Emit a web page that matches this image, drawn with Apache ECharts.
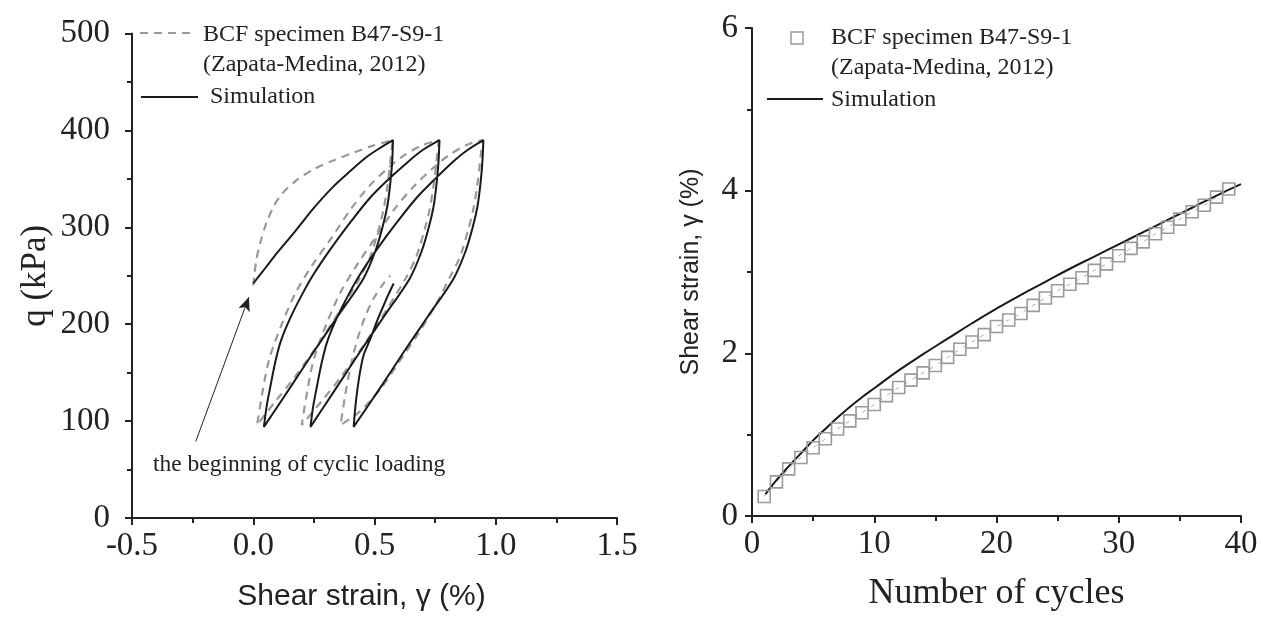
<!DOCTYPE html>
<html>
<head>
<meta charset="utf-8">
<script src="https://cdn.jsdelivr.net/npm/echarts@6/dist/echarts.min.js"></script>
<style>
  html, body { margin: 0; padding: 0; background: #fff; }
  #main { width: 1261px; height: 617px; }
</style>
</head>
<body>
<div id="main"></div>
<script>
// left panel: q vs shear strain loops, [strain %, q kPa]
var simLoop = [
  [0.00,242],[0.05,258],[0.10,274],[0.17,295],[0.25,320],[0.33,342],[0.40,358],[0.47,373],[0.53,383],[0.576,390],
  [0.573,368],[0.565,345],[0.553,322],[0.533,300],[0.503,275],[0.454,247],[0.348,208],[0.248,171],[0.148,133],[0.044,94],
  [0.055,115],[0.07,135],[0.09,160],[0.113,182],[0.15,205],[0.20,230],[0.25,252],[0.32,278],[0.40,305],[0.48,330],[0.56,350],[0.64,368],[0.70,380],[0.768,390],
  [0.764,368],[0.756,345],[0.744,322],[0.724,300],[0.694,275],[0.645,247],[0.539,208],[0.439,171],[0.339,133],[0.236,94],
  [0.247,115],[0.262,135],[0.282,160],[0.305,182],[0.342,205],[0.392,230],[0.442,252],[0.512,278],[0.592,305],[0.672,330],[0.750,350],[0.825,368],[0.885,380],[0.949,390],
  [0.945,368],[0.937,345],[0.925,322],[0.905,300],[0.875,275],[0.826,247],[0.72,208],[0.62,171],[0.52,133],[0.414,94],
  [0.420,112],[0.428,130],[0.44,150],[0.455,168],[0.483,185],[0.51,203],[0.537,219],[0.558,231],[0.579,242]
];
var testLoop = [
  [0.0,240],[0.012,265],[0.03,285],[0.055,305],[0.085,322],[0.12,335],[0.17,347],[0.25,360],[0.33,369],[0.414,377],[0.49,384],[0.575,390],
  [0.565,367],[0.552,340],[0.537,318],[0.517,298],[0.483,270],[0.44,248],[0.36,215],[0.27,180],[0.17,145],[0.09,120],[0.016,96],
  [0.038,130],[0.066,164],[0.116,199],[0.176,233],[0.246,262],[0.32,288],[0.40,318],[0.48,343],[0.56,362],[0.62,374],[0.70,385],[0.765,390],
  [0.755,367],[0.742,340],[0.727,318],[0.707,298],[0.673,270],[0.63,248],[0.55,215],[0.46,180],[0.36,145],[0.28,120],[0.2,96],
  [0.222,130],[0.25,164],[0.30,199],[0.36,233],[0.43,262],[0.50,288],[0.58,318],[0.665,343],[0.745,362],[0.805,374],[0.88,385],[0.945,390],
  [0.935,367],[0.922,340],[0.907,318],[0.887,298],[0.853,270],[0.81,248],[0.757,222],[0.68,190],[0.62,168],[0.53,135],[0.44,110],[0.36,96],
  [0.378,125],[0.40,155],[0.43,185],[0.465,210],[0.50,228],[0.54,243],[0.565,250]
];
var arrowFrom = [-0.237, 79];
var arrowTo = [-0.018, 228];

// right panel: shear strain vs number of cycles
var testCycles = [1,2,3,4,5,6,7,8,9,10,11,12,13,14,15,16,17,18,19,20,21,22,23,24,25,26,27,28,29,30,31,32,33,34,35,36,37,38,39];
var testStrain = [0.24,0.42,0.58,0.72,0.84,0.95,1.07,1.17,1.27,1.37,1.48,1.58,1.67,1.76,1.85,1.95,2.05,2.14,2.23,2.33,
  2.41,2.49,2.59,2.68,2.77,2.85,2.93,3.02,3.10,3.20,3.29,3.37,3.47,3.55,3.65,3.74,3.82,3.92,4.02];
var simCycles = [1.1,2,3,4,5,6,7,8,9,10,12,14,16,18,20,22,24,26,28,30,32,34,36,38,40];
var simStrain = [0.27,0.44,0.61,0.77,0.93,1.07,1.21,1.34,1.46,1.57,1.79,1.99,2.18,2.37,2.55,2.72,2.88,3.04,3.19,3.34,3.49,3.64,3.79,3.94,4.08];

var legendText1 = 'BCF specimen B47-S9-1';
var legendText2 = '(Zapata-Medina, 2012)';
var legendSim = 'Simulation';
var noteText = 'the beginning of cyclic loading';

var serif = 'Liberation Serif';
var sans = 'Liberation Sans';
var ink = '#222';

function pairs(xs, ys) {
  return xs.map(function (x, i) { return [x, ys[i]]; });
}

var chart = echarts.init(document.getElementById('main'));

var axisBase = {
  axisLine: { show: true, onZero: false, lineStyle: { color: ink, width: 2 } },
  axisTick: { show: true, inside: false, length: 7, lineStyle: { color: ink, width: 2 } },
  minorTick: { show: true, splitNumber: 2, length: 5, lineStyle: { color: ink, width: 2 } },
  splitLine: { show: false },
  axisLabel: { fontFamily: serif, fontSize: 33, color: ink }
};

function axis(extra) {
  var a = JSON.parse(JSON.stringify(axisBase));
  for (var k in extra) {
    if (typeof extra[k] === 'object' && a[k] && typeof a[k] === 'object' && !Array.isArray(extra[k])) {
      for (var j in extra[k]) a[k][j] = extra[k][j];
    } else {
      a[k] = extra[k];
    }
  }
  return a;
}

var option = {
  backgroundColor: '#fff',
  animation: false,
  grid: [
    { left: 132, top: 33.5, width: 485, height: 486.5 },
    { left: 752, top: 28, width: 489, height: 491 }
  ],
  xAxis: [
    axis({
      type: 'value', gridIndex: 0, min: -0.5, max: 1.5, interval: 0.5,
      axisLabel: { margin: 12, formatter: function (v) { return v.toFixed(1); } },
      name: 'Shear strain, \u03b3 (%)', nameLocation: 'middle', nameGap: 64,
      nameTextStyle: { fontFamily: sans, fontSize: 30, color: ink, padding: [0, 26, 0, 0] }
    }),
    axis({
      type: 'value', gridIndex: 1, min: 0, max: 40, interval: 10,
      axisLabel: { margin: 12 },
      name: 'Number of cycles', nameLocation: 'middle', nameGap: 60,
      nameTextStyle: { fontFamily: serif, fontSize: 36, color: ink }
    })
  ],
  yAxis: [
    axis({
      type: 'value', gridIndex: 0, min: 0, max: 500, interval: 100,
      axisLabel: { margin: 22 },
      name: 'q (kPa)', nameLocation: 'middle', nameGap: 79,
      nameTextStyle: { fontFamily: serif, fontSize: 35, color: ink }
    }),
    axis({
      type: 'value', gridIndex: 1, min: 0, max: 6, interval: 2,
      axisLabel: { margin: 14 },
      name: 'Shear strain, \u03b3 (%)', nameLocation: 'middle', nameGap: 48,
      nameTextStyle: { fontFamily: sans, fontSize: 25, color: ink }
    })
  ],
  series: [
    {
      name: 'test loops', type: 'line', xAxisIndex: 0, yAxisIndex: 0,
      data: testLoop, showSymbol: false, smooth: 0.3, silent: true,
      lineStyle: { color: '#999', width: 2.2, type: [8, 6] }
    },
    {
      name: 'sim loops', type: 'line', xAxisIndex: 0, yAxisIndex: 0,
      data: simLoop, showSymbol: false, smooth: 0.3, silent: true,
      lineStyle: { color: '#1a1a1a', width: 2 },
      markLine: {
        silent: true,
        symbol: ['none', 'arrow'], symbolSize: [9, 14],
        label: { show: false },
        lineStyle: { color: ink, width: 1, type: 'solid' },
        data: [[{ coord: arrowFrom }, { coord: arrowTo }]]
      }
    },
    {
      name: 'test cycles', type: 'line', xAxisIndex: 1, yAxisIndex: 1,
      data: pairs(testCycles, testStrain), symbol: 'rect', symbolSize: 12,
      itemStyle: { color: 'rgba(255,255,255,0)', borderColor: '#9a9a9a', borderWidth: 1.6 },
      lineStyle: { color: '#aaa', width: 1, type: [4, 6] }, silent: true
    },
    {
      name: 'sim cycles', type: 'line', xAxisIndex: 1, yAxisIndex: 1,
      data: pairs(simCycles, simStrain), showSymbol: false, smooth: true, silent: true,
      lineStyle: { color: '#1a1a1a', width: 2 }
    }
  ],
  graphic: [
    // left legend
    { type: 'line', shape: { x1: 140, y1: 33, x2: 194, y2: 33 }, style: { stroke: '#999', lineWidth: 2.2, lineDash: [8, 6] } },
    { type: 'text', left: 203, top: 23, style: { text: legendText1, font: '24px "Liberation Serif"', fill: ink } },
    { type: 'text', left: 203, top: 53, style: { text: legendText2, font: '24px "Liberation Serif"', fill: ink } },
    { type: 'line', shape: { x1: 141, y1: 97, x2: 198, y2: 97 }, style: { stroke: '#1a1a1a', lineWidth: 2.2 } },
    { type: 'text', left: 210, top: 85, style: { text: legendSim, font: '24px "Liberation Serif"', fill: ink } },
    // note under arrow
    { type: 'text', left: 153, top: 453, style: { text: noteText, font: '23.5px "Liberation Serif"', fill: ink } },
    // right legend
    { type: 'rect', shape: { x: 791, y: 32, width: 12, height: 12 }, style: { fill: 'none', stroke: '#9a9a9a', lineWidth: 1.5 } },
    { type: 'text', left: 831, top: 26, style: { text: legendText1, font: '24px "Liberation Serif"', fill: ink } },
    { type: 'text', left: 831, top: 56, style: { text: legendText2, font: '24px "Liberation Serif"', fill: ink } },
    { type: 'line', shape: { x1: 767, y1: 99, x2: 823, y2: 99 }, style: { stroke: '#1a1a1a', lineWidth: 2 } },
    { type: 'text', left: 831, top: 88, style: { text: legendSim, font: '24px "Liberation Serif"', fill: ink } }
  ]
};

chart.setOption(option);
window.addEventListener('resize', function () { chart.resize(); });
</script>
</body>
</html>
